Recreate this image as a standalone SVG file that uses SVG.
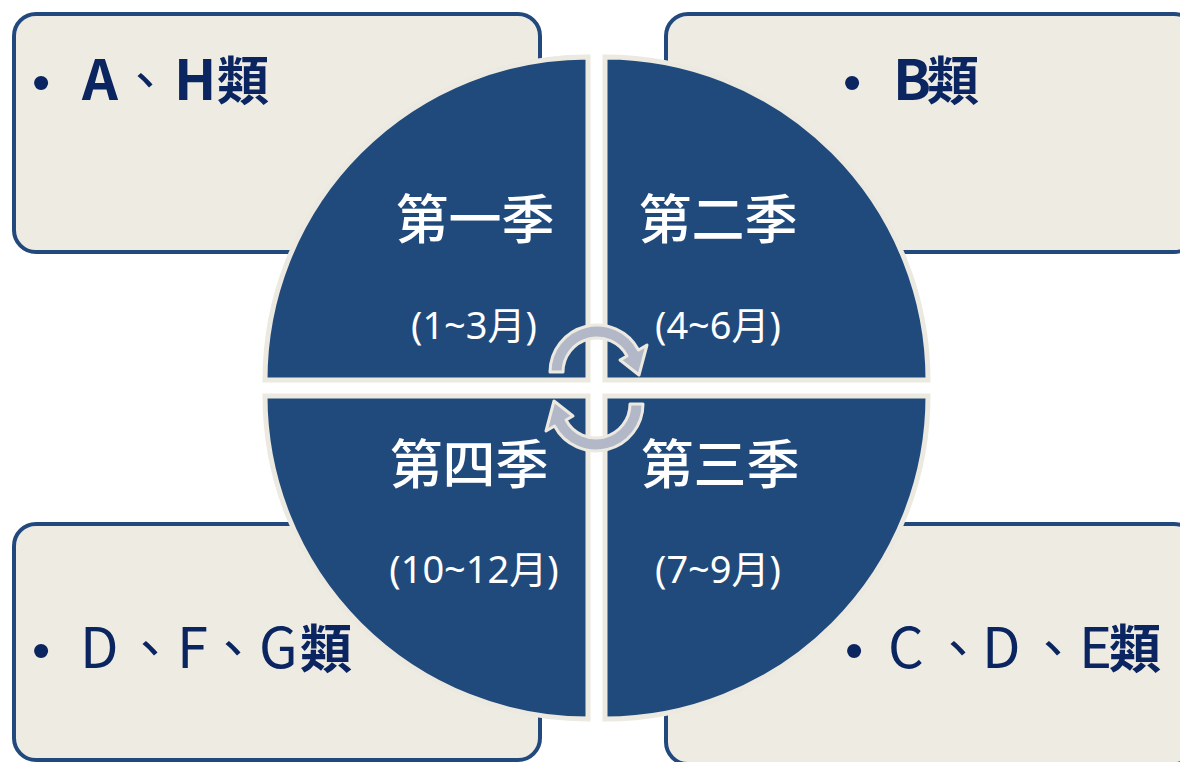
<svg xmlns="http://www.w3.org/2000/svg" width="1180" height="762" viewBox="0 0 1180 762">
<style>
.box{fill:#EEEBE3;stroke:#22497D;stroke-width:4}
.q{fill:#214A7C;stroke:#ECE9E0;stroke-width:5}
.arr{fill:#B3B8C8;stroke:#ECE9E0;stroke-width:3;stroke-linejoin:round}
.bt{font-family:"Noto Sans CJK TC","Noto Sans",sans-serif;font-size:52px;fill:#0B2560}
.L{font-size:56px}
.b{font-weight:bold}
.dot{font-family:"Liberation Sans",sans-serif;font-size:52px}
.s{font-family:"Noto Sans CJK TC",sans-serif;font-size:53px;font-weight:500;fill:#FFFFFF;text-anchor:middle}
.m{font-family:"Noto Sans","Noto Sans CJK TC",sans-serif;font-size:38px;fill:#FFFFFF;text-anchor:middle}
</style>
<rect width="1180" height="762" fill="#FFFFFF"/>
<g id="box-tl"><rect class="box" x="14" y="14" width="526" height="238" rx="22"/>
<text class="bt" y="100"><tspan class="dot" x="32">•</tspan><tspan class="b L" x="82">A</tspan><tspan x="119">、</tspan><tspan class="b L" x="174">H</tspan><tspan class="b" x="217">類</tspan></text></g>
<g id="box-tr"><rect class="box" x="666" y="14" width="530" height="238" rx="22"/>
<text class="bt" y="100"><tspan class="dot" x="843">•</tspan><tspan class="b L" x="893">B</tspan><tspan class="b" x="927">類</tspan></text></g>
<g id="box-bl"><rect class="box" x="14" y="524" width="526" height="236" rx="22"/>
<text class="bt" y="668"><tspan class="dot" x="32">•</tspan><tspan class="L" x="80">D</tspan><tspan x="124">、</tspan><tspan class="L" x="177">F</tspan><tspan x="207">、</tspan><tspan class="L" x="259">G</tspan><tspan class="b" x="300">類</tspan></text></g>
<g id="box-br"><rect class="box" x="666" y="524" width="530" height="240" rx="22"/>
<text class="bt" y="668"><tspan class="dot" x="845">•</tspan><tspan class="L" x="888">C</tspan><tspan x="932">、</tspan><tspan class="L" x="982">D</tspan><tspan x="1027">、</tspan><tspan class="L" x="1079">E</tspan><tspan class="b" x="1109">類</tspan></text></g>
<g id="q1"><path class="q" d="M588 380 L265 380 A323 323 0 0 1 588 57 Z"/>
<text class="s" x="475" y="239">第一季</text><text class="m" x="474" y="339">(1~3月)</text></g>
<g id="q2"><path class="q" d="M605 380 L605 57 A323 323 0 0 1 928 380 Z"/>
<text class="s" x="718" y="239">第二季</text><text class="m" x="718" y="339">(4~6月)</text></g>
<g id="q3"><path class="q" d="M605 396 L928 396 A323 323 0 0 1 605 719 Z"/>
<text class="s" x="720" y="484">第三季</text><text class="m" x="718" y="583">(7~9月)</text></g>
<g id="q4"><path class="q" d="M588 396 L588 719 A323 323 0 0 1 265 396 Z"/>
<text class="s" x="469" y="484">第四季</text><text class="m" x="474" y="583">(10~12月)</text></g>
<g id="connectors">
<path class="arr" transform="translate(597 372)" d="M-34 0 A34 34 0 0 1 30 -16 L23 -12 L42 3 L50 -27 L41.5 -22 A47 47 0 0 0 -47 0 Z"/>
<path class="arr" transform="translate(596 404) rotate(180)" d="M-34 0 A34 34 0 0 1 30 -16 L23 -12 L42 3 L50 -27 L41.5 -22 A47 47 0 0 0 -47 0 Z"/>
</g>
</svg>
